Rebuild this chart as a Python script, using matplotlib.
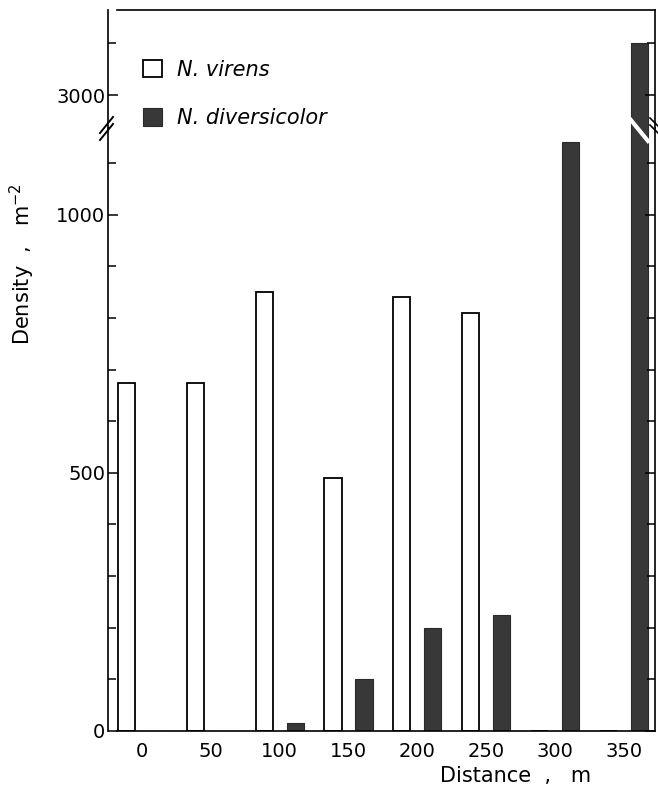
import numpy as np
import matplotlib
matplotlib.use("Agg")
import matplotlib.pyplot as plt
from matplotlib.ticker import MultipleLocator, FixedLocator
from matplotlib.lines import Line2D

# distance along the transect (m)
distance = [0, 50, 100, 150, 200, 250, 300, 350]
# densities (individuals per m2)
virens = [675, 675, 850, 490, 840, 810, 0, 0]
diversicolor = [0, 0, 15, 100, 200, 225, 1140, 3100]

W, H = 658, 798
fig = plt.figure(figsize=(W / 100, H / 100), dpi=100)
plt.rcParams['font.family'] = 'DejaVu Sans'

def fx(px):
    return px / W

def fy(py):
    return 1 - py / H

left, right = fx(117), fx(655)
y0, ybrk, ytop = fy(731), fy(128), fy(10)

ax = fig.add_axes([left, y0, right - left, ybrk - y0])
axu = fig.add_axes([left, ybrk, right - left, ytop - ybrk], sharex=ax)

x = np.array(distance, dtype=float)
off, w = 11.25, 12.5
dark = '#383838'
for a in (ax, axu):
    a.bar(x - off, virens, width=w, color='white', edgecolor='black',
          linewidth=1.3, label='N. virens')
    a.bar(x + off, diversicolor, width=w, color=dark, edgecolor='#2a2a2a',
          linewidth=0.8, label='N. diversicolor')

ax.set_xlim(-18.2, 372.8)
ax.set_ylim(0, 1168)
axu.set_ylim(2936, 3165)

ax.set_xticks(distance)
ax.set_xticklabels([str(d) for d in distance])
ax.tick_params(axis='x', length=0, pad=8, labelsize=14)
axu.tick_params(axis='x', length=0, labelbottom=False)

ax.yaxis.set_major_locator(FixedLocator([0, 500, 1000]))
ax.yaxis.set_minor_locator(MultipleLocator(100))
axu.yaxis.set_major_locator(FixedLocator([3000]))
axu.yaxis.set_minor_locator(MultipleLocator(100))

for a in (ax, axu):
    a.spines['left'].set_position(('outward', 6.5))
    for s in a.spines.values():
        s.set_linewidth(1.2)
    a.tick_params(axis='y', which='both', direction='in', right=True,
                  labelsize=14, pad=2, width=1.1)
    a.tick_params(axis='y', which='major', length=7)
    a.tick_params(axis='y', which='minor', length=6)

ax.spines['top'].set_visible(False)
axu.spines['bottom'].set_visible(False)

# break marks on the axis and the cut through the tall bar
fig.add_artist(Line2D([fx(630), fx(648)], [fy(119), fy(141)],
                      color='white', linewidth=3.0))
for dy in (0, 7):
    fig.add_artist(Line2D([fx(100), fx(113)], [fy(133 + dy), fy(117 + dy)],
                          color='black', linewidth=1.4))
    fig.add_artist(Line2D([fx(650), fx(660)], [fy(118 + dy), fy(128 + dy)],
                          color='black', linewidth=1.2))

handles, labels = ax.get_legend_handles_labels()
fig.legend(handles, labels, loc='upper left',
           bbox_to_anchor=(fx(143), fy(60)), frameon=False,
           prop={'size': 15, 'style': 'italic'}, borderpad=0, borderaxespad=0,
           handlelength=0.9, handleheight=0.9, handletextpad=0.75,
           labelspacing=1.35)

fig.text(fx(22), fy(345), 'Density  ,   m$^{-2}$', rotation=90,
         ha='center', va='bottom', fontsize=15)
fig.text(fx(440), fy(776), 'Distance  ,   m', ha='left', va='center',
         fontsize=15)

fig.savefig('out.png', dpi=100)
